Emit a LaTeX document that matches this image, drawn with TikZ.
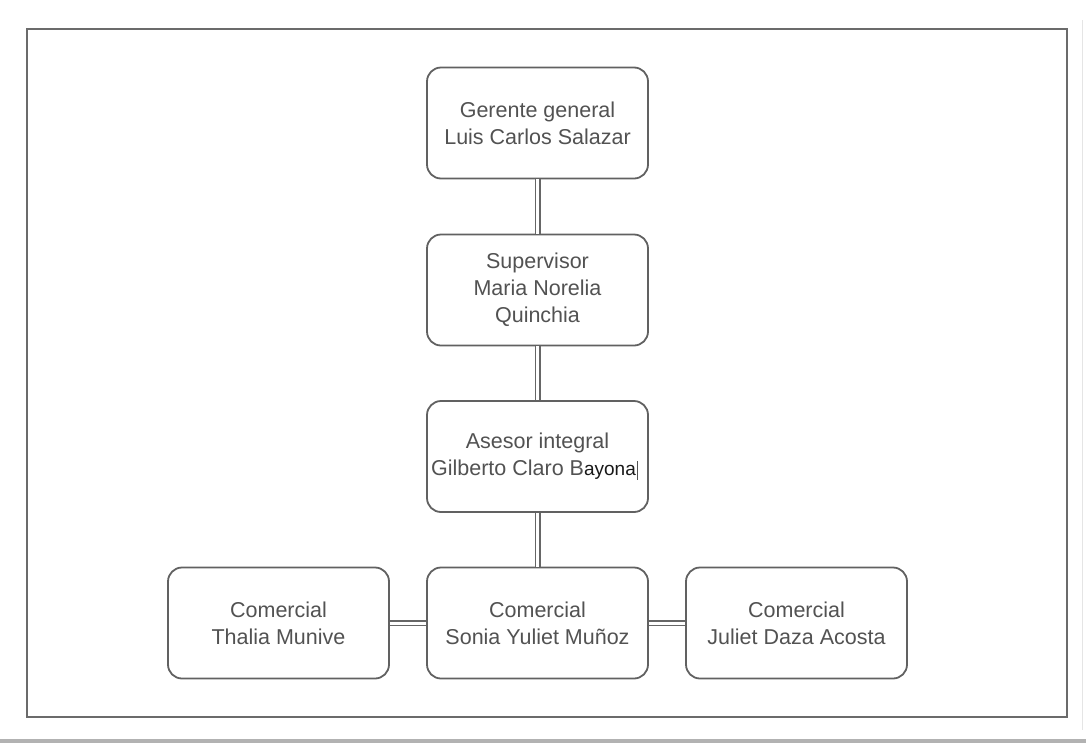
\documentclass[tikz,border=0pt]{standalone}
\usepackage{fontspec}
\setmainfont{Liberation Sans}
\begin{document}
\begin{tikzpicture}[x=1pt,y=-1pt,
  box/.style={draw=black!62, line width=1.8pt, rounded corners=14pt, fill=white,
    minimum width=221pt, minimum height=111pt, align=center, text=black!68,
    font=\fontsize{21.5}{27}\selectfont, inner sep=0pt},
  link/.style={draw=black!60, line width=1.5pt, double=white, double distance=3pt}]
  \useasboundingbox (0,0) rectangle (1086,745);
  % page edge shadow and outer frame
  \draw[black!30, line width=4pt] (0,741) -- (1086,741);
  \draw[black!10, line width=1pt] (1082,20) -- (1082,730);
  \draw[black!58, line width=2.4pt] (27,29) rectangle (1067,717);
  % boxes
  \node[box] (ger) at (537.5,123) {Gerente general\\Luis Carlos Salazar};
  \node[box] (sup) at (537.5,290) {Supervisor\\Maria Norelia\\Quinchia};
  \node[box] (ase) at (537.5,456.5) {Asesor integral\\\hspace*{-8pt}Gilberto Claro B{\color{black!90}\fontsize{19}{27}\selectfont ayona}\rlap{\hspace{1pt}\rule[-4pt]{0.8pt}{19pt}}};
  \node[box] (son) at (537.5,623) {Comercial\\Sonia Yuliet Muñoz};
  \node[box] (tha) at (278.5,623) {Comercial\\Thalia Munive};
  \node[box] (jul) at (796.5,623) {Comercial\\Juliet Daza Acosta};
  % connectors
  \draw[link] (ger.south) -- (sup.north);
  \draw[link] (sup.south) -- (ase.north);
  \draw[link] (ase.south) -- (son.north);
  \draw[link] (tha.east) -- (son.west);
  \draw[link] (son.east) -- (jul.west);
\end{tikzpicture}
\end{document}
